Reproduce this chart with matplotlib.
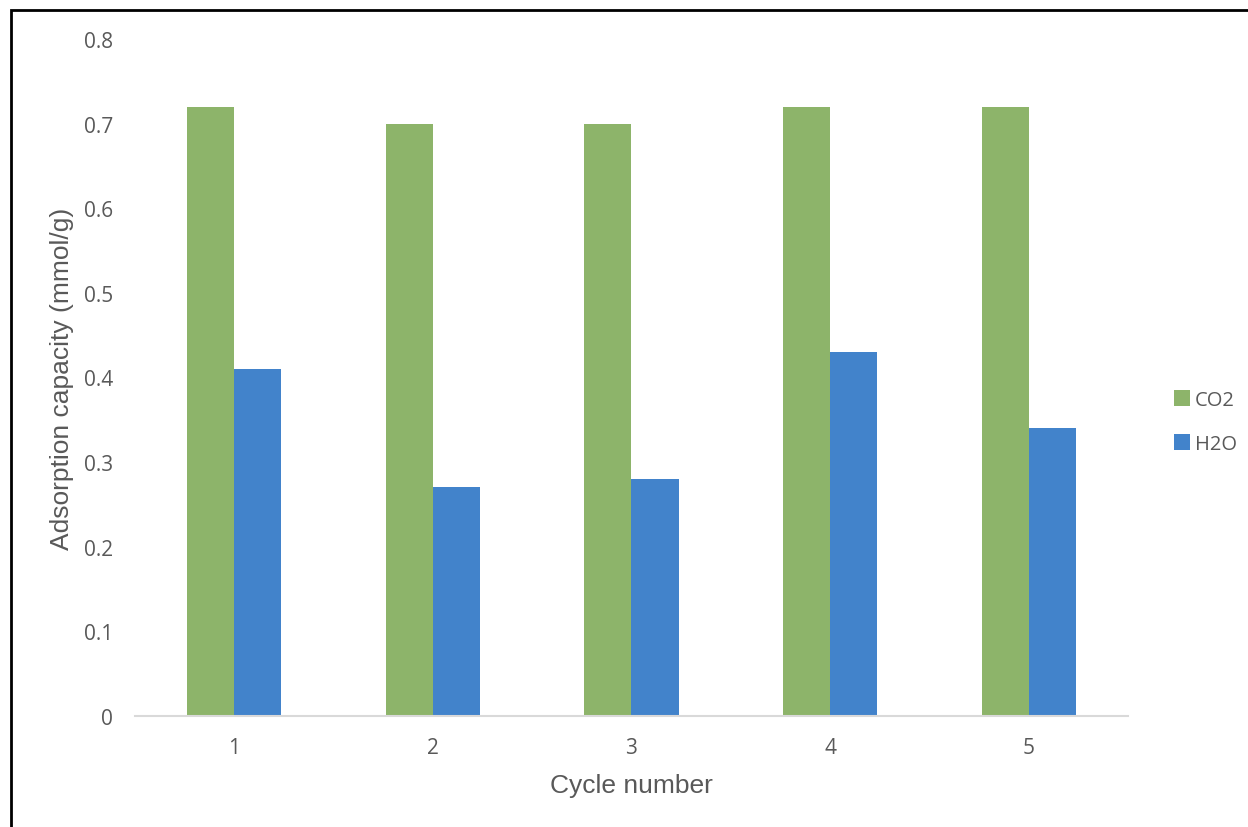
import numpy as np
import matplotlib
matplotlib.use("Agg")
import matplotlib.pyplot as plt
from matplotlib.patches import Rectangle

cycles = ["1", "2", "3", "4", "5"]
co2 = [0.72, 0.70, 0.70, 0.72, 0.72]
h2o = [0.41, 0.27, 0.28, 0.43, 0.34]
y_ticks = [0, 0.1, 0.2, 0.3, 0.4, 0.5, 0.6, 0.7, 0.8]
y_tick_labels = ["0", "0.1", "0.2", "0.3", "0.4", "0.5", "0.6", "0.7", "0.8"]

green = "#8DB46A"
blue = "#4283CB"
grey_text = "#595959"

fig = plt.figure(figsize=(12.48, 8.28), dpi=100)
ax = fig.add_axes([0.1082, 0.1341, 0.7956, 0.8176])

x = np.arange(1, len(cycles) + 1)
width = 0.237
ax.bar(x - width / 2, co2, width, color=green, label="CO2")
ax.bar(x + width / 2, h2o, width, color=blue, label="H2O")

ax.set_xlim(0.5, len(cycles) + 0.5)
ax.set_ylim(0, 0.8)
ax.set_xticks(x)
ax.set_xticklabels(cycles)
ax.set_yticks(y_ticks)
ax.set_yticklabels(y_tick_labels)

for side in ["top", "right", "left"]:
    ax.spines[side].set_visible(False)
ax.spines["bottom"].set_color("#D9D9D9")
ax.spines["bottom"].set_linewidth(1.5)
ax.tick_params(axis="both", length=0, labelsize=15, colors=grey_text)
ax.tick_params(axis="y", pad=16)
ax.tick_params(axis="x", pad=15)
for lbl in ax.get_xticklabels() + ax.get_yticklabels():
    lbl.set_fontfamily("Open Sans")

ax.set_ylabel("Adsorption capacity (mmol/g)", fontsize=19, color=grey_text,
              family="Liberation Sans")
ax.set_xlabel("Cycle number", fontsize=19, color=grey_text,
              family="Liberation Sans")
ax.yaxis.set_label_coords(-0.0735, 0.5)
ax.xaxis.set_label_coords(0.5, -0.102)
ax.yaxis.label.set_verticalalignment("center")
ax.xaxis.label.set_verticalalignment("center")

leg = fig.legend(loc="center left", bbox_to_anchor=(0.926, 0.489), frameon=False,
                 handlelength=0.8, handleheight=0.8, handletextpad=0.25,
                 labelspacing=1.2, prop={"family": "Open Sans", "size": 14.5})
for t in leg.get_texts():
    t.set_color(grey_text)

# outer frame (left and top edges visible)
fig.patches.append(Rectangle((11 / 1248, -0.1), 1.2, 0.1 + 1 - 11 / 828,
                             transform=fig.transFigure, fill=False,
                             edgecolor="black", linewidth=2))

fig.savefig("out.png", dpi=100)
